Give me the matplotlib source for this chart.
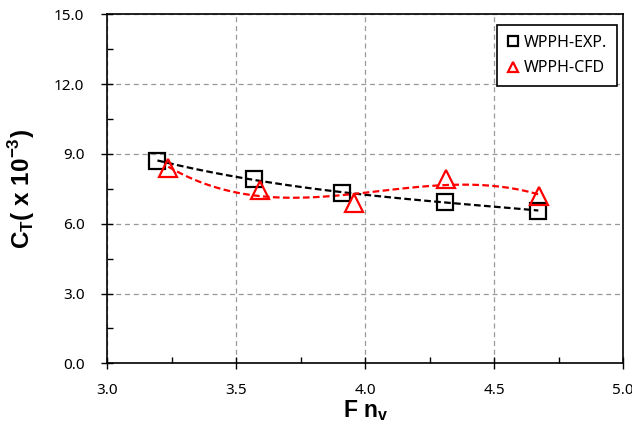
import numpy as np
import matplotlib.pyplot as plt
from matplotlib.ticker import MultipleLocator, FormatStrFormatter

plt.rcParams['font.family'] = ['Noto Sans', 'DejaVu Sans']

# EXP points (squares)
fn_exp = [3.194, 3.570, 3.910, 4.309, 4.671]
ct_exp = [8.71, 7.91, 7.31, 6.94, 6.56]
# CFD points (triangles)
fn_cfd = [3.236, 3.592, 3.957, 4.312, 4.673]
ct_cfd = [8.38, 7.45, 6.88, 7.93, 7.19]

fig = plt.figure(figsize=(6.32, 4.32), dpi=100)
ax = fig.add_axes([0.170, 0.159, 0.816, 0.808])

# polynomial trendlines (order 3), as in the spreadsheet chart
for xs, ys, c in [(fn_exp, ct_exp, 'black'), (fn_cfd, ct_cfd, 'red')]:
    p = np.polyfit(xs, ys, 3)
    xx = np.linspace(min(xs), max(xs), 100)
    ax.plot(xx, np.polyval(p, xx), color=c, lw=1.6, dashes=(3, 1.5), zorder=3)

ax.plot(fn_exp, ct_exp, ls='none', marker='s', ms=12, mfc='none', mec='black',
        mew=1.6, label='WPPH-EXP.', zorder=4)
ax.plot(fn_cfd, ct_cfd, ls='none', marker='^', ms=13, mfc='none', mec='red',
        mew=1.6, label='WPPH-CFD', zorder=4)

ax.set_xlim(3.0, 5.0)
ax.set_ylim(0.0, 15.0)
ax.xaxis.set_major_locator(MultipleLocator(0.5))
ax.xaxis.set_minor_locator(MultipleLocator(0.25))
ax.yaxis.set_major_locator(MultipleLocator(3.0))
ax.yaxis.set_minor_locator(MultipleLocator(1.5))
ax.xaxis.set_major_formatter(FormatStrFormatter('%.1f'))
ax.yaxis.set_major_formatter(FormatStrFormatter('%.1f'))
ax.tick_params(which='major', direction='inout', length=9, width=1, labelsize=11)
ax.tick_params(axis='y', which='major', pad=12)
ax.tick_params(axis='x', which='major', pad=10)
ax.tick_params(which='minor', direction='in', length=4, width=1)
ax.grid(True, which='major', color='#999999', ls=(0, (4, 3)), lw=0.9)
for s in ax.spines.values():
    s.set_linewidth(1.2)
    s.set_color('black')

ax.set_xlabel(r'F n$_\mathregular{v}$', fontsize=16.5, fontweight='bold',
              family='Liberation Sans', labelpad=0)
ax.set_ylabel(r'C$_\mathregular{T}$( x 10$^\mathregular{-3}$)', fontsize=17.5,
              fontweight='bold', family='Liberation Sans', labelpad=12)

leg = ax.legend(loc='upper right', fontsize=11.5, markerscale=0.6, handlelength=0.8,
                handletextpad=0.3, fancybox=False, framealpha=1, edgecolor='black',
                borderpad=0.6, labelspacing=0.6, borderaxespad=0,
                bbox_to_anchor=(0.988, 0.969))
leg.get_frame().set_linewidth(1.2)

fig.savefig('out.png', dpi=100)
